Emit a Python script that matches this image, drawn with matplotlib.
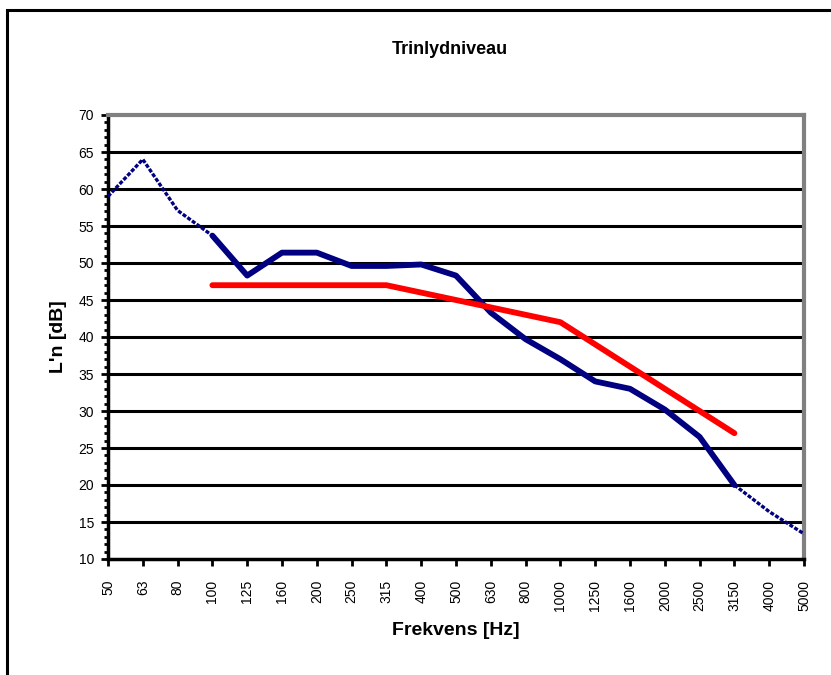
import matplotlib.pyplot as plt
from matplotlib.patches import Rectangle
from matplotlib.ticker import MultipleLocator

plt.rcParams['font.family'] = ['Liberation Sans', 'DejaVu Sans']

# --- data ---
freqs = ['50', '63', '80', '100', '125', '160', '200', '250', '315', '400',
         '500', '630', '800', '1000', '1250', '1600', '2000', '2500', '3150',
         '4000', '5000']
maalt = [59.0, 64.0, 57.1, 53.7, 48.3, 51.4, 51.4, 49.6, 49.6, 49.8,
         48.3, 43.3, 39.7, 37.0, 34.0, 33.0, 30.2, 26.5, 20.0, 16.4, 13.4]
ref_freqs = ['100', '125', '160', '200', '250', '315', '400', '500', '630',
             '800', '1000', '1250', '1600', '2000', '2500', '3150']
ref_kurve = [47, 47, 47, 47, 47, 47, 46, 45, 44, 43, 42, 39, 36, 33, 30, 27]

x = list(range(len(freqs)))
ix_start = freqs.index('100')
ix_slut = freqs.index('3150')

fig = plt.figure(figsize=(8.31, 6.75), dpi=100)
W, H = 831, 675
ax = fig.add_axes([108 / W, 1 - 559 / H, (804 - 108) / W, (559 - 115) / H])

# ydre ramme
fig.patches.append(Rectangle((7 / W, -0.01), 1.1, 1 - 10 / H + 0.01,
                             transform=fig.transFigure, fill=False,
                             edgecolor='black', linewidth=2.2, zorder=0))

# gitterlinjer
for yv in range(15, 70, 5):
    ax.axhline(yv, color='black', linewidth=2.2, zorder=1)

blue = '#000080'
# prikkede ender
ax.plot(x[:ix_start + 1], maalt[:ix_start + 1], color=blue, linewidth=2.4,
        linestyle=(0, (1.2, 0.5)), zorder=3)
ax.plot(x[ix_slut:], maalt[ix_slut:], color=blue, linewidth=2.4,
        linestyle=(0, (1.2, 0.5)), zorder=3)
# fuldt optrukket midte
ax.plot(x[ix_start:ix_slut + 1], maalt[ix_start:ix_slut + 1], color=blue,
        linewidth=4.2, solid_capstyle='round', zorder=3)

# forskudt referencekurve
ref_x = [freqs.index(f) for f in ref_freqs]
ax.plot(ref_x, ref_kurve, color='#FF0000', linewidth=4.2,
        solid_capstyle='round', zorder=4)

ax.set_xlim(0, len(freqs) - 1)
ax.set_ylim(10, 70)
ax.set_xticks(x)
ax.set_xticklabels(freqs, rotation=90, fontsize=10)
ax.yaxis.set_major_locator(MultipleLocator(5))
ax.yaxis.set_minor_locator(MultipleLocator(1))
ax.tick_params(axis='y', which='major', length=5, width=2, labelsize=10,
               direction='out', pad=5)
ax.tick_params(axis='y', which='minor', length=3, width=2, direction='out')
ax.tick_params(axis='x', length=5, width=2, labelsize=10, direction='out',
               pad=10)

for side in ['left', 'bottom']:
    ax.spines[side].set_linewidth(2.5)
    ax.spines[side].set_color('black')
for side in ['top', 'right']:
    ax.spines[side].set_linewidth(3)
    ax.spines[side].set_color('#808080')

ax.set_xlabel('Frekvens [Hz]', fontsize=14, fontweight='bold', labelpad=8)
ax.set_ylabel("L'n [dB]", fontsize=14, fontweight='bold', labelpad=8)
fig.text(450 / W, 1 - 50 / H, 'Trinlydniveau', fontsize=13,
         fontweight='bold', ha='center', va='center')

fig.savefig('out.png', dpi=100)
